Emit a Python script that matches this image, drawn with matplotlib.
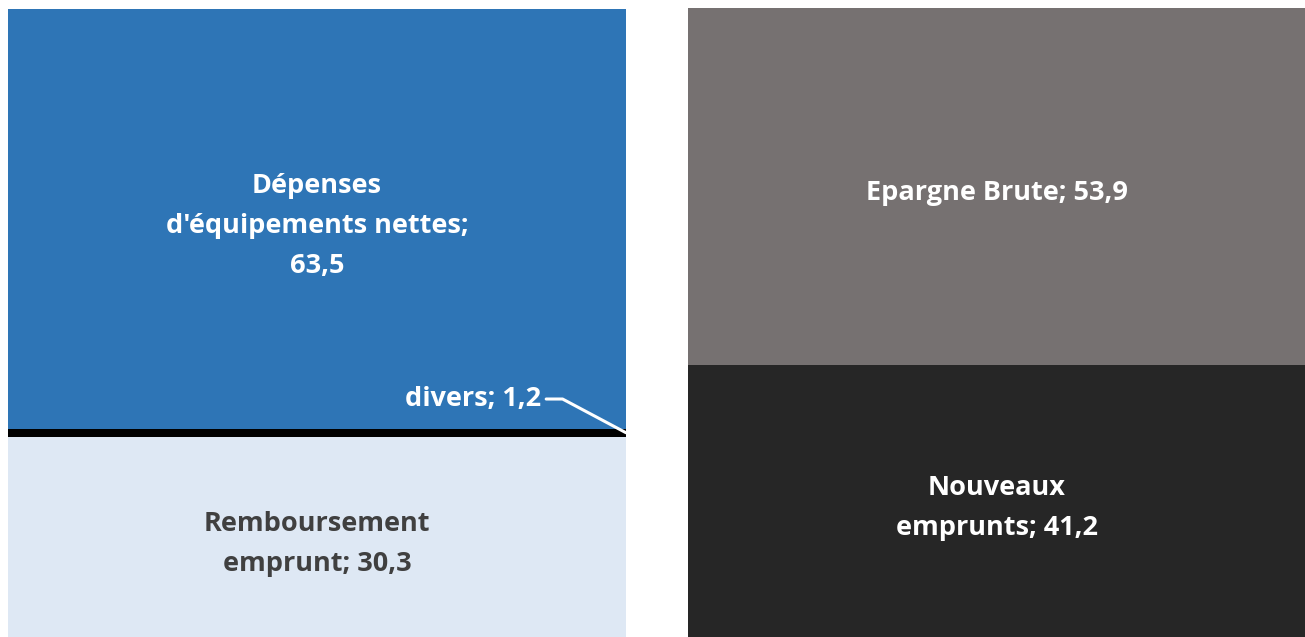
import matplotlib.pyplot as plt

# emplois (gauche) / ressources (droite), en M€
bars = [0, 1]
remboursement = [30.3, 0]
divers = [1.2, 0]
depenses = [63.5, 0]
nouveaux_emprunts = [0, 41.2]
epargne_brute = [0, 53.9]

labels_left = ["Remboursement\nemprunt; 30,3", "Dépenses\nd'équipements nettes;\n63,5"]
labels_right = ["Nouveaux\nemprunts; 41,2", "Epargne Brute; 53,9"]

plt.rcParams["font.family"] = ["Open Sans", "DejaVu Sans"]

fig = plt.figure(figsize=(13.05, 6.37), dpi=100)
ax = fig.add_axes([0, 0, 1, 1])

width = 0.909
blue = "#2E75B6"
light = "#DEE8F4"
grey = "#767171"
dark = "#262626"

ax.bar(bars[0], remboursement[0], width, color=light)
ax.bar(bars[0], divers[0], width, bottom=remboursement[0], color="black")
ax.bar(bars[0], depenses[0], width, bottom=remboursement[0] + divers[0], color=blue)
ax.bar(bars[1], nouveaux_emprunts[1], width, color=dark)
ax.bar(bars[1], epargne_brute[1], width, bottom=nouveaux_emprunts[1], color=grey)

# étiquettes centrées dans chaque segment (léger décalage vers le bas)
txt = dict(ha="center", va="center", fontsize=19.5, fontweight="bold", linespacing=1.7,
           xytext=(0, -7), textcoords="offset pixels")
ax.annotate(labels_left[0], (bars[0], remboursement[0] / 2), color="#404040", **txt)
ax.annotate(labels_left[1], (bars[0], remboursement[0] + divers[0] + depenses[0] / 2), color="white", **txt)
ax.annotate(labels_right[0], (bars[1], nouveaux_emprunts[1] / 2), color="white", **txt)
ax.annotate(labels_right[1], (bars[1], nouveaux_emprunts[1] + epargne_brute[1] / 2), color="white", **txt)

# étiquette de "divers", trop fin pour être écrit dans la barre
ax.annotate(
    "divers; 1,2",
    xy=(bars[0] + width / 2, remboursement[0] + divers[0] / 2),
    xytext=(0.329, 36.0),
    ha="right", va="center", fontsize=19.5, fontweight="bold", color="white",
    arrowprops=dict(arrowstyle="-", color="white", lw=2.2,
                    shrinkA=2, shrinkB=0, relpos=(1, 0.5),
                    connectionstyle="angle,angleA=0,angleB=152,rad=0"),
)

ax.set_xlim(-0.466, 1.453)
ax.set_ylim(0, 96.36)
ax.axis("off")

fig.savefig("out.png", dpi=100)
